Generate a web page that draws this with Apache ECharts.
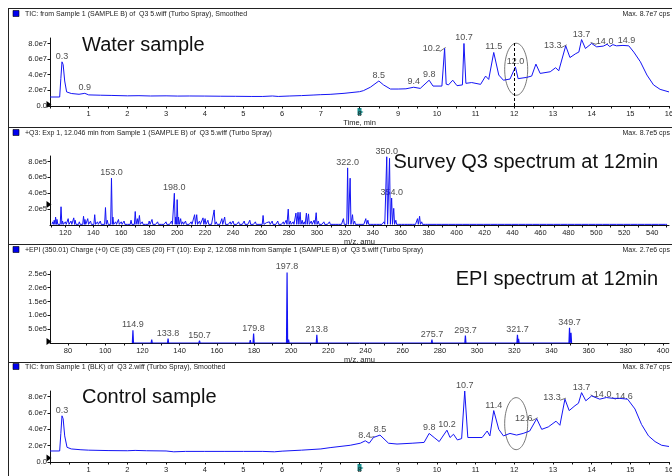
<!DOCTYPE html>
<html><head><meta charset="utf-8">
<script src="https://cdn.jsdelivr.net/npm/echarts@6/dist/echarts.min.js"></script>
<style>html,body{margin:0;padding:0;background:#fff}#c{width:672px;height:476px}</style>
</head><body><div id="c"></div>
<script>
// ---------- DATA ----------
// Panel 1: TIC water sample (time min, intensity in 1e7 cps)
const waterTime = [0,0.25,0.28,0.31,0.34,0.38,0.43,0.55,0.75,0.9,1.0,1.3,1.6,2.0,2.3,2.6,3.0,3.3,3.6,4.0,4.4,4.8,5.2,5.5,5.75,5.9,6.2,6.5,6.8,7.0,7.24,7.6,8.0,8.1,8.28,8.5,8.62,8.8,9.0,9.2,9.4,9.57,9.8,9.9,10.13,10.17,10.2,10.24,10.3,10.41,10.52,10.66,10.7,10.75,10.9,11.13,11.26,11.34,11.47,11.6,11.72,11.89,12.03,12.1,12.32,12.45,12.56,12.67,12.93,13.07,13.15,13.33,13.44,13.59,13.67,13.74,13.84,14.0,14.13,14.3,14.4,14.47,14.55,14.64,14.81,14.96,15.09,15.26,15.43,15.6,15.77,16.0];
const waterInt = [1.15,1.15,3.5,5.65,5.3,3.2,1.8,1.6,1.5,1.62,1.42,1.38,1.35,1.3,1.32,1.28,1.3,1.27,1.28,1.27,1.25,1.24,1.22,1.22,1.28,1.22,1.28,1.33,1.4,1.45,1.49,1.62,1.83,1.96,2.4,3.2,2.7,2.17,2.17,2.2,2.4,2.25,3.3,2.55,2.55,2.7,7.36,2.8,2.7,3.3,2.6,2.7,8.0,2.9,3.0,2.77,3.83,3.4,6.85,3.96,3.3,3.45,5.0,3.5,3.66,3.83,5.36,4.17,4.38,4.9,4.5,7.7,6.2,6.7,6.9,8.5,7.36,8.0,7.57,7.66,7.9,7.6,7.85,7.7,7.75,7.7,6.9,5.66,3.96,2.7,2.13,1.8];
const waterPeakT = [0.31,0.9,8.5,9.4,9.8,10.2,10.7,11.47,12.03,13.33,13.74,14.0,14.9];
const waterPeakV = [5.65,1.62,3.2,2.4,3.3,7.36,8.0,6.85,5.0,7.7,8.5,8.0,7.7];
const waterPeakText = ['0.3','0.9','8.5','9.4','9.8','10.2','10.7','11.5','12.0','13.3','13.7','14.0','14.9'];

// Panel 4: TIC control sample (time min, intensity in 1e7 cps)
const ctrlTime = [0,0.25,0.28,0.31,0.34,0.38,0.44,0.55,0.8,1.0,1.5,2.0,2.2,2.5,3.0,3.2,3.5,4.0,4.5,5.0,5.5,5.8,6.0,6.5,7.0,7.24,7.76,8.02,8.15,8.25,8.36,8.53,8.75,8.97,9.36,9.67,9.8,9.93,10.06,10.26,10.34,10.43,10.53,10.64,10.72,10.8,10.96,11.17,11.3,11.37,11.47,11.6,11.72,11.89,12.06,12.23,12.4,12.58,12.71,12.88,13.08,13.18,13.31,13.42,13.57,13.66,13.74,13.85,14.0,14.21,14.38,14.55,14.72,14.93,15.12,15.29,15.47,15.64,15.81,16.0];
const ctrlInt = [1.35,1.35,3.5,5.66,5.3,3.2,1.8,1.6,1.5,1.45,1.4,1.38,1.42,1.38,1.35,1.25,1.3,1.3,1.3,1.3,1.3,1.25,1.33,1.45,1.6,1.76,2.05,2.3,2.6,2.3,3.0,3.3,2.3,2.2,2.3,2.4,3.5,3.0,2.5,3.9,3.0,3.4,2.7,2.87,8.7,3.0,3.0,3.0,3.8,3.2,6.3,4.0,3.2,3.5,3.3,3.5,3.8,5.3,4.0,4.3,5.0,4.5,7.7,6.3,6.9,7.2,8.5,7.5,8.1,7.7,7.9,7.8,7.8,7.7,6.5,4.6,3.2,2.5,2.05,1.9];
const ctrlPeakT = [0.31,8.36,8.53,9.8,10.26,10.72,11.47,12.58,13.31,13.74,14.0,14.55];
const ctrlPeakV = [5.66,3.0,3.3,3.5,3.9,8.7,6.3,5.3,7.7,8.5,8.1,7.8];
const ctrlPeakText = ['0.3','8.4','8.5','9.8','10.2','10.7','11.4','12.6','13.3','13.7','14.0','14.6'];

// Panel 2: Survey Q3 spectrum (m/z, intensity in 1e5 cps)
const q3Mz = [111,112,113,114,116.9,118,120,122,124,126,127,130,133,134,136,138,141,143,145,148.7,150,153,154,156,158,160,162,165,167,170,171.5,173,175,178,180,182,184,186,188,190,192,194,196,198,199,200,201,202.5,204,206,208,210,212.5,214,216,218.5,220,222,224,226.5,228,230,232,234,236,238,240,242,244,246,248,250,252,254,256,258,261.5,264,266,268,270,272,274,276,278,279.5,281,283,285,286.5,288,289.5,291,292.5,294,296,298,299.5,301,303,305,307,309,311,313,315,317,319,320,322,323.8,325.5,327,329,331,333,335,336.5,338,340,342,344,346,348,350,352,353.5,355,356.5,358,360,362,364,366,368,370,372,373.5,375,377,380,383,386,390,395,400,405,410,415,420,425,430,435,440,445,450,455,460,465,470,475,480,485,490,495,500,505,510,515,520,525,530,535,540,545,550];
const q3Int = [0.4,0.6,1.0,0.7,2.3,0.5,0.4,0.8,0.5,0.9,0.6,0.4,1.1,0.7,0.8,0.5,1.3,0.4,0.5,2.2,0.6,5.9,1.0,0.4,0.7,0.4,0.5,0.3,0.6,1.7,0.8,1.2,0.4,0.3,0.5,0.7,0.3,0.4,0.3,0.2,0.4,0.3,0.5,4.0,1.0,3.2,1.0,0.8,0.4,0.5,0.3,0.4,1.3,1.3,0.5,0.9,0.8,0.6,0.3,1.9,0.4,0.3,0.8,1.0,0.3,0.4,0.5,0.3,0.4,0.3,0.5,0.3,0.6,0.3,0.4,0.3,1.2,0.3,0.4,0.5,0.3,0.5,0.3,0.4,0.6,2.0,0.5,0.4,1.5,1.6,1.6,0.6,0.4,1.5,1.4,0.5,0.6,1.55,0.5,0.3,0.4,0.3,0.4,0.3,0.2,0.3,0.2,0.8,0.3,7.2,5.9,1.3,0.5,0.3,0.2,0.3,0.8,0.6,0.3,0.2,0.2,0.3,0.2,0.4,8.6,8.4,3.4,2.1,0.6,0.3,0.2,0.2,0.2,0.2,0.3,0.2,0.8,1.1,0.4,0.2,0.2,0.15,0.2,0.15,0.2,0.15,0.1,0.2,0.15,0.2,0.3,0.15,0.1,0.2,0.1,0.15,0.1,0.2,0.1,0.15,0.1,0.2,0.1,0.15,0.1,0.15,0.1,0.15,0.1,0.2,0.1,0.15,0.1,0.2,0.1,0.1];
const q3PeakMz = [153,198,322,350,353.5];
const q3PeakInt = [5.9,4.0,7.2,8.6,3.4];
const q3PeakText = ['153.0','198.0','322.0','350.0','354.0'];

// Panel 3: EPI spectrum (m/z, intensity in 1e6 cps)
const epiMz = [114.9,125,133.8,143,150.7,162,178,179.8,197.8,198.6,213.8,240,258,275.7,293.7,303.5,321.7,322.3,349.7,350.5];
const epiInt = [0.46,0.12,0.16,0.06,0.085,0.05,0.1,0.34,2.55,0.12,0.3,0.03,0.03,0.12,0.27,0.05,0.3,0.15,0.55,0.37];
const epiPeakMz = [114.9,133.8,150.7,179.8,197.8,213.8,275.7,293.7,321.7,349.7];
const epiPeakInt = [0.46,0.16,0.085,0.34,2.55,0.3,0.12,0.27,0.3,0.55];

// Axis tick labels
const timeTicks = [1,2,3,4,5,6,7,8,9,10,11,12,13,14,15,16];
const q3Ticks = [120,140,160,180,200,220,240,260,280,300,320,340,360,380,400,420,440,460,480,500,520,540];
const epiTicks = [80,100,120,140,160,180,200,220,240,260,280,300,320,340,360,380,400];

// ---------- STYLE ----------
const FONT = "'Liberation Sans', Arial, sans-serif";
const BLUE = '#1414f5';
const TXT = '#222';
const L = 50, R = 3;
const waterLabelShift = {'10.2':[-13,6],'13.3':[-13,5],'14.0':[13,4]};
const ctrlLabelShift = {'8.4':[-9,3],'12.6':[-13,5],'13.3':[-13,4],'14.0':[11,4],'14.6':[11,4]};

const chart = echarts.init(document.getElementById('c'), null, {renderer:'canvas'});

function pairs(xs, ys){ return xs.map((x,i)=>[x, ys[i]]); }
function sticks(xs, ys, half, floor){
  const out=[];
  xs.forEach((x,i)=>{ out.push([x-half,floor]); out.push([x,ys[i]]); out.push([x+half,floor]); });
  return out;
}
function labelData(xs, ys, texts){
  return xs.map((x,i)=>({value:[x, ys[i]], name: texts ? texts[i] : x.toFixed(1)}));
}
function layoutFn(texts, shifts){
  return function(params){
    const s = shifts[texts[params.dataIndex]];
    return s ? {dx:s[0], dy:s[1]} : {};
  };
}
const axisLabelStyle = {fontSize:7.5, color:TXT, fontFamily:FONT};
function xAxisCfg(grid, min, max, ticks, name, tickVals, gap){
  return {
    type:'value', gridIndex:grid, min:min, max:max,
    name:name, nameLocation:'middle', nameGap:gap,
    nameTextStyle:{fontSize:7.5, color:TXT, fontFamily:FONT},
    axisLine:{show:true, onZero:false, lineStyle:{color:'#111', width:1}},
    axisTick:{show:true, length:2.5, lineStyle:{color:'#111'}, customValues: tickVals},
    axisLabel:Object.assign({margin:4, customValues: ticks, hideOverlap:false}, axisLabelStyle),
    splitLine:{show:false}
  };
}
function yAxisCfg(grid, max, interval, fmt, showZero){
  return {
    type:'value', gridIndex:grid, min:0, max:max, interval:interval,
    axisLine:{show:true, lineStyle:{color:'#111', width:1}},
    axisTick:{show:true, length:2.5, lineStyle:{color:'#111'}},
    axisLabel:Object.assign({margin:3, formatter:fmt, showMinLabel:showZero, showMaxLabel:false, hideOverlap:false}, axisLabelStyle),
    splitLine:{show:false}
  };
}
const timeMinor = []; for (let i=0;i<=32;i++) timeMinor.push(i/2);
const q3Minor = []; for (let v=110; v<=550; v+=10) q3Minor.push(v);
const epiMinor = []; for (let v=80; v<=400; v+=10) epiMinor.push(v);

const lblStyle = {show:true, position:'top', distance:1, fontSize:9, color:TXT, fontFamily:FONT, formatter:p=>p.name};

const option = {
  animation:false,
  backgroundColor:'#fff',
  textStyle:{fontFamily:FONT},
  grid:[
    {left:L, right:R, top:38, height:68, outerBoundsMode:'none', containLabel:false},
    {left:L, right:R, top:156, height:69, outerBoundsMode:'none', containLabel:false},
    {left:L, right:R, top:271, height:72, outerBoundsMode:'none', containLabel:false},
    {left:L, right:R, top:391, height:71, outerBoundsMode:'none', containLabel:false}
  ],
  xAxis:[
    xAxisCfg(0, 0, 16, timeTicks, 'Time, min', timeMinor, 12),
    xAxisCfg(1, 109, 552, q3Ticks, 'm/z, amu', q3Minor, 11),
    xAxisCfg(2, 70.3, 403.2, epiTicks, 'm/z, amu', epiMinor, 7),
    xAxisCfg(3, 0, 16, timeTicks, 'Time, min', timeMinor, 12)
  ],
  yAxis:[
    yAxisCfg(0, 8.7, 2, v=>v===0?'0.0':v.toFixed(1)+'e7', true),
    yAxisCfg(1, 8.7, 2, v=>v.toFixed(1)+'e5', false),
    yAxisCfg(2, 2.6, 0.5, v=>v<1?(v*10).toFixed(1)+'e5':v.toFixed(1)+'e6', false),
    yAxisCfg(3, 8.7, 2, v=>v===0?'0.0':v.toFixed(1)+'e7', true)
  ],
  series:[
    {type:'line', xAxisIndex:0, yAxisIndex:0, data:pairs(waterTime, waterInt), showSymbol:false, symbol:'none',
     lineStyle:{color:BLUE, width:1}, silent:true,
     markLine:{symbol:'none', silent:true, label:{show:false}, lineStyle:{type:[3,2], color:'#000', width:1},
       data:[[{coord:[12,0]},{coord:[12,8.1]}]]}},
    {type:'scatter', xAxisIndex:0, yAxisIndex:0, symbolSize:0, data:labelData(waterPeakT, waterPeakV, waterPeakText), label:lblStyle, silent:true,
     labelLayout:layoutFn(waterPeakText, waterLabelShift)},
    {type:'line', xAxisIndex:1, yAxisIndex:1, data:sticks(q3Mz, q3Int, 0.6, 0.08), showSymbol:false, symbol:'none',
     lineStyle:{color:BLUE, width:1}, silent:true},
    {type:'scatter', xAxisIndex:1, yAxisIndex:1, symbolSize:0, data:labelData(q3PeakMz, q3PeakInt, q3PeakText), label:lblStyle, silent:true},
    {type:'line', xAxisIndex:2, yAxisIndex:2, data:sticks(epiMz, epiInt, 0.3, 0), showSymbol:false, symbol:'none',
     lineStyle:{color:BLUE, width:1.2}, silent:true},
    {type:'scatter', xAxisIndex:2, yAxisIndex:2, symbolSize:0, data:labelData(epiPeakMz, epiPeakInt, null), label:lblStyle, silent:true},
    {type:'line', xAxisIndex:3, yAxisIndex:3, data:pairs(ctrlTime, ctrlInt), showSymbol:false, symbol:'none',
     lineStyle:{color:BLUE, width:1}, silent:true},
    {type:'scatter', xAxisIndex:3, yAxisIndex:3, symbolSize:0, data:labelData(ctrlPeakT, ctrlPeakV, ctrlPeakText), label:lblStyle, silent:true,
     labelLayout:layoutFn(ctrlPeakText, ctrlLabelShift)}
  ]
};
chart.setOption(option);

// ---------- decorations ----------
const seps = [8, 127, 244, 362];
const titles = [
  'TIC: from Sample 1 (SAMPLE B) of  Q3 5.wiff (Turbo Spray), Smoothed',
  '+Q3: Exp 1, 12.046 min from Sample 1 (SAMPLE B) of  Q3 5.wiff (Turbo Spray)',
  '+EPI (350.01) Charge (+0) CE (35) CES (20) FT (10): Exp 2, 12.058 min from Sample 1 (SAMPLE B) of  Q3 5.wiff (Turbo Spray)',
  'TIC: from Sample 1 (BLK) of  Q3 2.wiff (Turbo Spray), Smoothed'
];
const maxTexts = ['Max. 8.7e7 cps','Max. 8.7e5 cps','Max. 2.7e6 cps','Max. 8.7e7 cps'];
const titleY = [14, 133, 250, 367];
const g = [];
g.push({type:'line', shape:{x1:8.5,y1:8,x2:8.5,y2:476}, style:{stroke:'#222', lineWidth:1}, silent:true});
seps.forEach(y=>g.push({type:'line', shape:{x1:8,y1:y+0.5,x2:672,y2:y+0.5}, style:{stroke:'#222', lineWidth:1}, silent:true}));
titles.forEach((t,i)=>{
  g.push({type:'rect', shape:{x:13,y:titleY[i]-3.5,width:6,height:6}, style:{fill:'#0000ee', stroke:'#000', lineWidth:0.6}, silent:true});
  g.push({type:'text', x:25, y:titleY[i], style:{text:t, fontSize:7, fill:TXT, fontFamily:FONT, textVerticalAlign:'middle', verticalAlign:'middle'}, silent:true});
  g.push({type:'text', x:670, y:titleY[i], style:{text:maxTexts[i], fontSize:7, fill:TXT, fontFamily:FONT, align:'right', textAlign:'right', verticalAlign:'middle', textVerticalAlign:'middle'}, silent:true});
});
const bigTexts = [
  {t:'Water sample', x:82, y:45, a:'left'},
  {t:'Survey Q3 spectrum at 12min', x:658, y:162, a:'right'},
  {t:'EPI spectrum at 12min', x:658, y:279, a:'right'},
  {t:'Control sample', x:82, y:397, a:'left'}
];
bigTexts.forEach(b=>g.push({type:'text', x:b.x, y:b.y, style:{text:b.t, fontSize:20, fill:'#111', fontFamily:FONT, align:b.a, textAlign:b.a, verticalAlign:'middle', textVerticalAlign:'middle'}, silent:true}));
// leader lines from shifted peak labels to their peaks
function leaders(gi, ts, vs, texts, shifts){
  texts.forEach((t,i)=>{
    const s = shifts[t]; if (!s) return;
    const p = chart.convertToPixel({gridIndex:gi}, [ts[i], vs[i]]);
    const sign = s[0] < 0 ? -1 : 1;
    const w = t.length * 4.6;
    const lx = p[0] + s[0] - sign*(w/2 - 1);
    const ly = p[1] - 3 + s[1];
    g.push({type:'line', shape:{x1:lx, y1:ly, x2:p[0]-sign*1, y2:p[1]-1}, style:{stroke:'#333', lineWidth:0.7}, silent:true});
  });
}
leaders(0, waterPeakT, waterPeakV, waterPeakText, waterLabelShift);
leaders(3, ctrlPeakT, ctrlPeakV, ctrlPeakText, ctrlLabelShift);
// cursor triangles at y axes
[[0,0.2],[1,2.6],[2,0.05],[3,0.5]].forEach(([gi, v])=>{
  const p = chart.convertToPixel({gridIndex:gi}, [gi===1?109:(gi===2?70.3:0), v]);
  const x = p[0], y = p[1];
  g.push({type:'polygon', shape:{points:[[x-3.5,y-3.5],[x+1.5,y],[x-3.5,y+3.5]]}, style:{fill:'#000'}, silent:true});
});
// teal markers at time 8
[0,3].forEach(gi=>{
  const p = chart.convertToPixel({gridIndex:gi}, [8,0]);
  const x=p[0], y=p[1];
  g.push({type:'polygon', shape:{points:[[x-2,y+2],[x+2,y+2],[x+2,y+5],[x+4,y+6],[x+2,y+7],[x+2,y+9],[x-2,y+9]]}, style:{fill:'#1a8f8f'}, silent:true});
});
// ellipses around 12 min
[0,3].forEach(gi=>{
  const c = chart.convertToPixel({gridIndex:gi}, [12.05, 4.7]);
  g.push({type:'ellipse', shape:{cx:c[0], cy:c[1], rx:11.5, ry:26}, style:{fill:'none', stroke:'#555', lineWidth:0.8}, silent:true});
});
chart.setOption({graphic:g});
</script>
</body></html>
